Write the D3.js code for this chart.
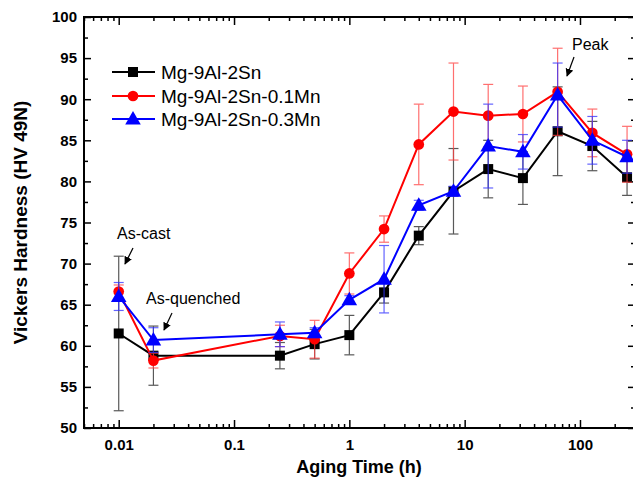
<!DOCTYPE html>
<html lang="en">
<head>
    <meta charset="UTF-8">
    <title>Vickers Hardness vs Aging Time</title>
    <style>
        body { margin: 0; background: #fff; }
        svg { display: block; font-family: "Liberation Sans", Arial, sans-serif; }
    </style>
</head>
<body>
    <svg id="vis"></svg>
    <script src="https://d3js.org/d3.v7.min.js"></script>
    <script>
        // Data
        const times = [0.01, 0.02, 0.25, 0.5, 1, 2, 4, 8, 16, 32, 64, 128, 256]
        const hvBase = [61.5, 58.8, 58.8, 60.2, 61.3, 66.5, 73.4, 78.8, 81.5, 80.4, 86.1, 84.3, 80.5]
        const errBase = [9.4, 3.6, 1.6, 1.8, 2.4, 1.3, 1.1, 5.2, 3.5, 3.2, 5.4, 3.0, 2.2]
        const hvMn01 = [66.6, 58.2, 61.2, 60.8, 68.8, 74.2, 84.5, 88.5, 88.0, 88.2, 90.9, 85.9, 83.3]
        const errMn01 = [0.8, 0.9, 1.3, 2.3, 2.5, 1.6, 4.9, 5.9, 3.8, 3.4, 5.3, 2.9, 3.4]
        const hvMn03 = [66.0, 60.7, 61.4, 61.6, 65.6, 68.1, 77.1, 78.8, 84.3, 83.6, 90.5, 85.0, 83.0]
        const errMn03 = [1.7, 1.5, 1.5, 0.6, 0.5, 4.1, 0.6, 0.6, 5.1, 2.1, 3.9, 2.9, 2.0]
        const seriesNames = ["Mg-9Al-2Sn", "Mg-9Al-2Sn-0.1Mn", "Mg-9Al-2Sn-0.3Mn"]
        const xTickValues = [0.01, 0.1, 1, 10, 100]
        const xTickLabels = ["0.01", "0.1", "1", "10", "100"]
        const yTickValues = [50, 55, 60, 65, 70, 75, 80, 85, 90, 95, 100]
        const annotations = [
            { text: "As-cast", x: 117, y: 239, tail: [133, 248], tip: [125, 264] },
            { text: "As-quenched", x: 146, y: 304, tail: [172, 313], tip: [164, 330] },
            { text: "Peak", x: 572, y: 50, tail: [574, 57], tip: [567, 76] }
        ]

        // Config
        const width = 633, height = 478
        const plotLeft = 84, plotRight = 635, plotTop = 17, plotBottom = 428
        const colors = ["#000000", "#ff0000", "#0000ff"]
        const errColors = ["#222222", "#ff4040", "#3030ff"]
        const shapes = [d3.symbolSquare, d3.symbolCircle, d3.symbolTriangle]
        const shapeSizes = [100, 90, 105]

        const series = [
            { name: seriesNames[0], hv: hvBase, err: errBase },
            { name: seriesNames[1], hv: hvMn01, err: errMn01 },
            { name: seriesNames[2], hv: hvMn03, err: errMn03 }
        ]

        const svg = d3.select('#vis').attr("width", width).attr("height", height)

        const x = d3.scaleLog().domain([0.005, 300]).range([plotLeft, plotRight])
        const y = d3.scaleLinear().domain([50, 100]).range([plotBottom, plotTop])

        // minor ticks
        const xMinor = []
        for (let e = -3; e <= 2; e++) {
            for (let m = 2; m <= 9; m++) {
                const v = m * Math.pow(10, e)
                if (v >= 0.005 && v <= 300) xMinor.push(v)
            }
        }
        const yMinor = d3.range(52.5, 100, 5)

        function styleAxis(g) {
            g.select(".domain").remove()
            g.selectAll("line").attr("stroke", "#000").attr("stroke-width", 1.5)
            g.selectAll("text").attr("font-size", 15).attr("font-weight", "bold").attr("fill", "#000")
        }

        // bottom
        svg.append("g").attr("transform", `translate(0,${plotBottom})`)
            .call(d3.axisBottom(x).tickValues(xTickValues).tickSize(-8).tickPadding(11)
                .tickFormat((d, i) => xTickLabels[i]))
            .call(styleAxis)
        svg.append("g").attr("transform", `translate(0,${plotBottom})`)
            .call(d3.axisBottom(x).tickValues(xMinor).tickSize(-4).tickFormat(""))
            .call(styleAxis)
        // top
        svg.append("g").attr("transform", `translate(0,${plotTop})`)
            .call(d3.axisTop(x).tickValues(xTickValues).tickSize(-8).tickFormat(""))
            .call(styleAxis)
        svg.append("g").attr("transform", `translate(0,${plotTop})`)
            .call(d3.axisTop(x).tickValues(xMinor).tickSize(-4).tickFormat(""))
            .call(styleAxis)
        // left
        svg.append("g").attr("transform", `translate(${plotLeft},0)`)
            .call(d3.axisLeft(y).tickValues(yTickValues).tickSize(-7).tickPadding(7))
            .call(styleAxis)
        svg.append("g").attr("transform", `translate(${plotLeft},0)`)
            .call(d3.axisLeft(y).tickValues(yMinor).tickSize(-4).tickFormat(""))
            .call(styleAxis)
        // right
        svg.append("g").attr("transform", `translate(${plotRight},0)`)
            .call(d3.axisRight(y).tickValues(yTickValues).tickSize(-7).tickFormat(""))
            .call(styleAxis)
        svg.append("g").attr("transform", `translate(${plotRight},0)`)
            .call(d3.axisRight(y).tickValues(yMinor).tickSize(-4).tickFormat(""))
            .call(styleAxis)

        // frame
        svg.append("rect")
            .attr("x", plotLeft).attr("y", plotTop)
            .attr("width", plotRight - plotLeft).attr("height", plotBottom - plotTop)
            .attr("fill", "none").attr("stroke", "#000").attr("stroke-width", 2)

        // axis titles
        svg.append("text")
            .attr("x", 359).attr("y", 473)
            .attr("text-anchor", "middle")
            .attr("font-size", 18).attr("font-weight", "bold")
            .text("Aging Time (h)")
        svg.append("text")
            .attr("transform", `translate(27,${(plotTop + plotBottom) / 2}) rotate(-90)`)
            .attr("text-anchor", "middle")
            .attr("font-size", 19).attr("font-weight", "bold")
            .text("Vickers Hardness (HV 49N)")

        // series
        const line = d3.line().x(d => x(d.t)).y(d => y(d.v))
        series.forEach((s, si) => {
            const pts = times.map((t, i) => ({ t: t, v: s.hv[i], e: s.err[i] }))
            const g = svg.append("g")

            // error bars
            const eb = g.selectAll("g.err").data(pts).enter().append("g")
                .attr("stroke", errColors[si]).attr("stroke-width", 1.2).attr("opacity", 0.75)
            eb.append("line")
                .attr("x1", d => x(d.t)).attr("x2", d => x(d.t))
                .attr("y1", d => y(d.v - d.e)).attr("y2", d => y(d.v + d.e))
            eb.append("line")
                .attr("x1", d => x(d.t) - 5).attr("x2", d => x(d.t) + 5)
                .attr("y1", d => y(d.v + d.e)).attr("y2", d => y(d.v + d.e))
            eb.append("line")
                .attr("x1", d => x(d.t) - 5).attr("x2", d => x(d.t) + 5)
                .attr("y1", d => y(d.v - d.e)).attr("y2", d => y(d.v - d.e))

            g.append("path").datum(pts)
                .attr("d", line)
                .attr("fill", "none").attr("stroke", colors[si]).attr("stroke-width", 2)

            g.selectAll("path.mk").data(pts).enter().append("path")
                .attr("transform", d => `translate(${x(d.t)},${y(d.v) + (si === 2 ? 1 : 0)})`)
                .attr("d", d3.symbol().type(shapes[si]).size(shapeSizes[si]))
                .attr("fill", colors[si])
        })

        // legend
        const legendY = [72, 96, 119]
        series.forEach((s, si) => {
            svg.append("line")
                .attr("x1", 112).attr("x2", 155)
                .attr("y1", legendY[si]).attr("y2", legendY[si])
                .attr("stroke", colors[si]).attr("stroke-width", 2)
            svg.append("path")
                .attr("transform", `translate(133,${legendY[si] + (si === 2 ? 1 : 0)})`)
                .attr("d", d3.symbol().type(shapes[si]).size(shapeSizes[si]))
                .attr("fill", colors[si])
            svg.append("text")
                .attr("x", 161).attr("y", legendY[si] + 7)
                .attr("font-size", 19)
                .text(s.name)
        })

        // annotations with arrows
        svg.append("defs").append("marker")
            .attr("id", "arrow")
            .attr("viewBox", "0 0 10 10")
            .attr("refX", 9).attr("refY", 5)
            .attr("markerWidth", 8).attr("markerHeight", 8)
            .attr("markerUnits", "userSpaceOnUse")
            .attr("orient", "auto")
            .append("path").attr("d", "M0,0 L10,5 L0,10 z").attr("fill", "#000")

        annotations.forEach(a => {
            svg.append("text").attr("x", a.x).attr("y", a.y)
                .attr("font-size", 16).text(a.text)
            svg.append("line")
                .attr("x1", a.tail[0]).attr("y1", a.tail[1])
                .attr("x2", a.tip[0]).attr("y2", a.tip[1])
                .attr("stroke", "#000").attr("stroke-width", 1.2)
                .attr("marker-end", "url(#arrow)")
        })
    </script>
</body>
</html>
